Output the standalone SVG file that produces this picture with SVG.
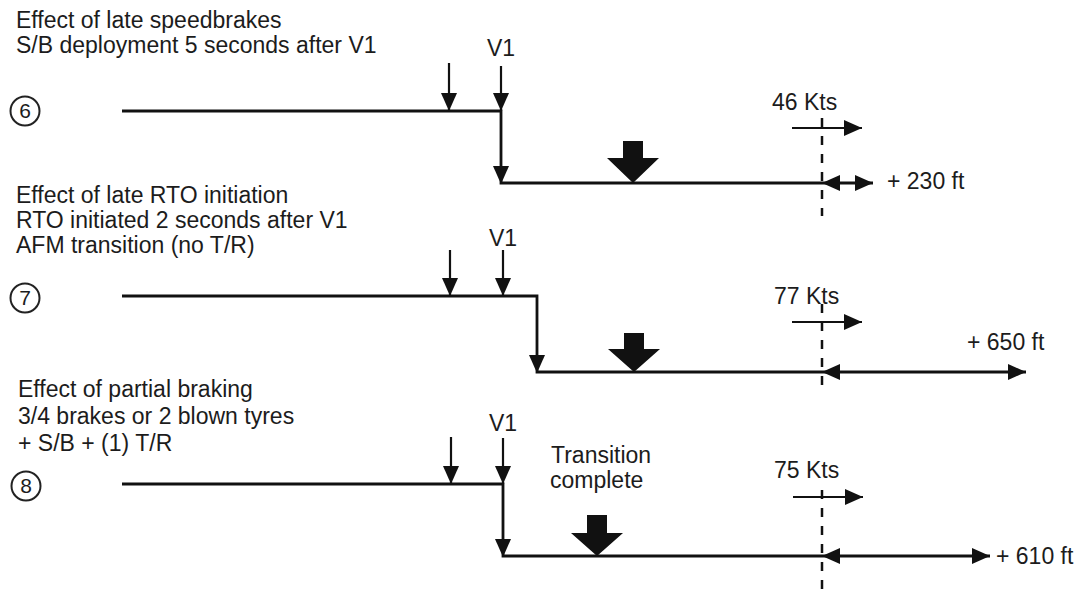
<svg xmlns="http://www.w3.org/2000/svg" width="1091" height="589" viewBox="0 0 1091 589">
<style>
text{font-family:"Liberation Sans",Arial,sans-serif;font-size:23px;fill:#1c1c1c}
.ln{stroke:#111;stroke-width:2.8;fill:none}
.sh{stroke:#111;stroke-width:2.2;fill:none}
.dash{stroke:#111;stroke-width:2.5;stroke-dasharray:9 9;fill:none}
.hd{fill:#111}
.circ{fill:none;stroke:#222;stroke-width:2}
.num{font-size:21px;text-anchor:middle}
.mid{text-anchor:middle}
</style>
<defs>
<marker id="ah" viewBox="0 0 18 16" refX="18" refY="8" markerWidth="18" markerHeight="16" markerUnits="userSpaceOnUse" orient="auto-start-reverse"><path d="M0,0 L18,8 L0,16 z" fill="#111"/></marker>
<marker id="ah2" viewBox="0 0 18 16" refX="18" refY="8" markerWidth="18" markerHeight="16" markerUnits="userSpaceOnUse" orient="auto-start-reverse"><path d="M0,0 L18,8 L0,16 z" fill="#111"/></marker>
</defs>

<g id="panel6-label">
<text x="16" y="28">Effect of late speedbrakes</text>
<text x="16" y="53">S/B deployment 5 seconds after V1</text>
</g>
<g id="circle6"><circle class="circ" cx="25" cy="111" r="14.5"/><text class="num" x="25" y="118">6</text></g>
<g id="v1-6"><text class="mid" x="501" y="56">V1</text></g>
<g id="kts6"><text x="772" y="110">46 Kts</text></g>
<g id="ft6"><text x="887" y="189">+ 230 ft</text></g>

<g id="panel7-label">
<text x="16" y="203">Effect of late RTO initiation</text>
<text x="16" y="228">RTO initiated 2 seconds after V1</text>
<text x="16" y="253">AFM transition (no T/R)</text>
</g>
<g id="circle7"><circle class="circ" cx="25" cy="298" r="14.5"/><text class="num" x="25" y="305">7</text></g>
<g id="v1-7"><text class="mid" x="503" y="246">V1</text></g>
<g id="kts7"><text x="774" y="304">77 Kts</text></g>
<g id="ft7"><text x="967" y="350">+ 650 ft</text></g>

<g id="panel8-label">
<text x="18" y="397">Effect of partial braking</text>
<text x="18" y="424">3/4 brakes or 2 blown tyres</text>
<text x="18" y="451">+ S/B + (1) T/R</text>
</g>
<g id="circle8"><circle class="circ" cx="26" cy="486" r="14.5"/><text class="num" x="26" y="493">8</text></g>
<g id="v1-8"><text class="mid" x="503" y="431">V1</text></g>
<g id="trans8"><text x="551" y="463">Transition</text><text x="550" y="488">complete</text></g>
<g id="kts8"><text x="774" y="478">75 Kts</text></g>
<g id="ft8"><text x="996" y="564">+ 610 ft</text></g>

<g id="connectors">
<!-- panel 6 -->
<path class="ln" d="M122,111 H501 V183 H822"/>
<line class="sh" x1="449" y1="63" x2="449" y2="111" marker-end="url(#ah)"/>
<line class="sh" x1="501" y1="66" x2="501" y2="111" marker-end="url(#ah)"/>
<polygon class="hd" points="493,166 509,166 501,184"/>
<polygon class="hd" points="623,141 643,141 643,158 659,158 633,183 607,158 623,158"/>
<line class="dash" x1="822" y1="118" x2="822" y2="216"/>
<line class="sh" x1="792" y1="128" x2="862" y2="128" marker-end="url(#ah2)"/>
<line class="ln" x1="822" y1="183" x2="873" y2="183" marker-start="url(#ah)" marker-end="url(#ah)"/>
<!-- panel 7 -->
<path class="ln" d="M122,296 H537 V372 H822"/>
<line class="sh" x1="450" y1="250" x2="450" y2="296" marker-end="url(#ah)"/>
<line class="sh" x1="503" y1="250" x2="503" y2="296" marker-end="url(#ah)"/>
<polygon class="hd" points="529,355 545,355 537,373"/>
<polygon class="hd" points="624,333 644,333 644,349 660,349 634,372 608,349 624,349"/>
<line class="dash" x1="822" y1="304" x2="822" y2="394"/>
<line class="sh" x1="792" y1="322" x2="862" y2="322" marker-end="url(#ah2)"/>
<line class="ln" x1="822" y1="372" x2="1026" y2="372" marker-start="url(#ah)" marker-end="url(#ah)"/>
<!-- panel 8 -->
<path class="ln" d="M122,484 H503 V556 H822"/>
<line class="sh" x1="451" y1="437" x2="451" y2="484" marker-end="url(#ah)"/>
<line class="sh" x1="503" y1="438" x2="503" y2="484" marker-end="url(#ah)"/>
<polygon class="hd" points="495,539 511,539 503,557"/>
<polygon class="hd" points="587,515 607,515 607,533 623,533 597,556 571,533 587,533"/>
<line class="dash" x1="822" y1="490" x2="822" y2="589"/>
<line class="sh" x1="793" y1="497" x2="863" y2="497" marker-end="url(#ah2)"/>
<line class="ln" x1="822" y1="556" x2="990" y2="556" marker-start="url(#ah)" marker-end="url(#ah)"/>
</g>
</svg>
